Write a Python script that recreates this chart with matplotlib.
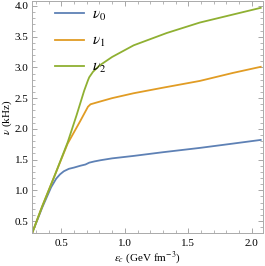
import matplotlib.pyplot as plt
from matplotlib.ticker import MultipleLocator

# energy density (GeV fm^-3) and frequencies (kHz)
eps_nu0 = [0.27, 0.35, 0.42, 0.46, 0.49, 0.52, 0.56, 0.60, 0.65, 0.69, 0.72, 0.76, 0.81, 0.90, 1.07, 1.30, 1.59, 1.85, 2.07]
nu0 = [0.30, 0.72, 1.05, 1.19, 1.26, 1.31, 1.35, 1.37, 1.40, 1.42, 1.45, 1.47, 1.49, 1.52, 1.56, 1.62, 1.69, 1.76, 1.82]

eps_nu1 = [0.27, 0.35, 0.45, 0.55, 0.65, 0.71, 0.73, 0.78, 0.90, 1.07, 1.30, 1.59, 1.85, 2.07]
nu1 = [0.30, 0.74, 1.25, 1.76, 2.13, 2.36, 2.40, 2.43, 2.50, 2.58, 2.67, 2.78, 2.91, 3.01]

eps_nu2 = [0.27, 0.35, 0.45, 0.55, 0.62, 0.68, 0.71, 0.72, 0.75, 0.80, 0.90, 1.07, 1.33, 1.59, 1.85, 2.07]
nu2 = [0.30, 0.74, 1.25, 1.78, 2.22, 2.62, 2.79, 2.84, 2.93, 3.03, 3.17, 3.36, 3.56, 3.73, 3.86, 3.97]

colors = ['#5E81B5', '#E19C24', '#8FB032']
labels = [r'$\nu_0$', r'$\nu_1$', r'$\nu_2$']

plt.rcParams['font.family'] = 'Liberation Serif'
plt.rcParams['mathtext.fontset'] = 'stix'

fig = plt.figure(figsize=(2.65, 2.66), dpi=100)
ax = fig.add_axes([0.121, 0.124, 0.871, 0.872])

for x, y, c, lab in zip([eps_nu0, eps_nu1, eps_nu2], [nu0, nu1, nu2], colors, labels):
    ax.plot(x, y, color=c, lw=1.3, label=lab)

ax.set_xlim(0.27, 2.087)
ax.set_ylim(0.305, 4.08)
ax.xaxis.set_major_locator(MultipleLocator(0.5))
ax.xaxis.set_minor_locator(MultipleLocator(0.1))
ax.yaxis.set_major_locator(MultipleLocator(0.5))
ax.yaxis.set_minor_locator(MultipleLocator(0.1))
ax.tick_params(which='both', direction='in', top=True, right=True, color='#999999', labelsize=8)
ax.tick_params(axis='x', pad=4)
ax.tick_params(axis='y', pad=2.5)
ax.tick_params(which='major', length=3.5, width=0.6)
ax.tick_params(which='minor', length=2, width=0.5)
for s in ax.spines.values():
    s.set_color('#aaaaaa')
    s.set_linewidth(0.7)

ax.set_xlabel(r'$\epsilon_c$ (GeV fm$^{-3}$)', fontsize=8, labelpad=1)
ax.set_ylabel(r'$\nu$ (kHz)', fontsize=8, labelpad=0.5)

ax.legend(loc='upper left', frameon=False, fontsize=11, handlelength=1.9,
          labelspacing=0.75, handletextpad=0.5, borderaxespad=0.2,
          bbox_to_anchor=(0.06, 1.01))

fig.savefig('out.png', dpi=100)
